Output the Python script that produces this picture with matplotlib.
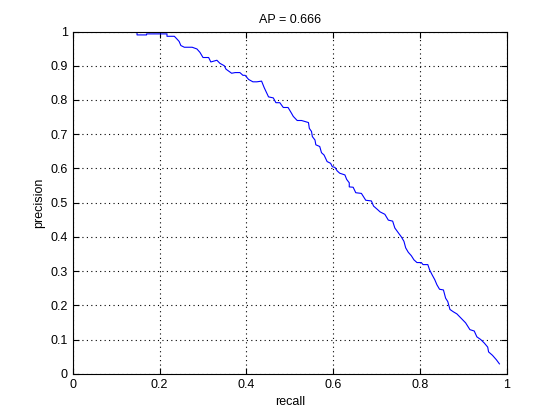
import matplotlib.pyplot as plt

# Precision-Recall-Kurve, Werte
recall = [0.148, 0.148, 0.170, 0.170, 0.217, 0.217, 0.234, 0.240, 0.245, 0.249, 0.257,
          0.275, 0.286, 0.293, 0.300, 0.313, 0.318, 0.332, 0.339, 0.349, 0.353, 0.366,
          0.374, 0.385, 0.392, 0.397, 0.405, 0.415, 0.424, 0.435, 0.441, 0.451, 0.462,
          0.468, 0.477, 0.485, 0.496, 0.504, 0.508, 0.517, 0.527, 0.543, 0.545, 0.550,
          0.552, 0.558, 0.560, 0.569, 0.573, 0.579, 0.586, 0.594, 0.598, 0.604, 0.609,
          0.615, 0.627, 0.631, 0.637, 0.637, 0.646, 0.652, 0.665, 0.675, 0.688, 0.693,
          0.702, 0.708, 0.719, 0.727, 0.737, 0.742, 0.750, 0.757, 0.763, 0.767, 0.773,
          0.780, 0.786, 0.793, 0.803, 0.807, 0.818, 0.822, 0.828, 0.834, 0.839, 0.845,
          0.854, 0.859, 0.864, 0.869, 0.877, 0.885, 0.895, 0.905, 0.915, 0.925, 0.931,
          0.940, 0.948, 0.956, 0.958, 0.967, 0.976, 0.983]
precision = [1.000, 0.990, 0.990, 0.993, 0.993, 0.986, 0.986, 0.978, 0.971, 0.959, 0.954,
             0.954, 0.949, 0.939, 0.924, 0.924, 0.911, 0.916, 0.907, 0.900, 0.890, 0.878,
             0.880, 0.880, 0.872, 0.872, 0.860, 0.853, 0.853, 0.855, 0.836, 0.809, 0.806,
             0.792, 0.792, 0.778, 0.778, 0.761, 0.752, 0.740, 0.740, 0.734, 0.717, 0.708,
             0.693, 0.683, 0.669, 0.664, 0.646, 0.639, 0.620, 0.615, 0.605, 0.603, 0.593,
             0.586, 0.581, 0.568, 0.558, 0.546, 0.545, 0.529, 0.527, 0.507, 0.505, 0.490,
             0.480, 0.473, 0.466, 0.449, 0.446, 0.426, 0.412, 0.400, 0.387, 0.368, 0.355,
             0.345, 0.333, 0.325, 0.325, 0.319, 0.319, 0.304, 0.289, 0.275, 0.260, 0.247,
             0.245, 0.221, 0.211, 0.188, 0.181, 0.175, 0.162, 0.149, 0.129, 0.125, 0.108,
             0.100, 0.090, 0.078, 0.064, 0.054, 0.041, 0.029]
ticks_x = [0, 0.2, 0.4, 0.6, 0.8, 1]
ticks_y = [0, 0.1, 0.2, 0.3, 0.4, 0.5, 0.6, 0.7, 0.8, 0.9, 1]

plt.rcParams['font.family'] = ['Liberation Sans', 'DejaVu Sans']
plt.rcParams['font.size'] = 9

fig = plt.figure(figsize=(5.6, 4.2), dpi=100)
ax = fig.add_axes([0.13, 0.11, 0.775, 0.815])
ax.plot(recall, precision, color='blue', linewidth=0.8)
ax.set_xlim(0, 1)
ax.set_ylim(0, 1)
ax.set_xticks(ticks_x)
ax.set_xticklabels(['0', '0.2', '0.4', '0.6', '0.8', '1'])
ax.set_yticks(ticks_y)
ax.set_yticklabels(['0', '0.1', '0.2', '0.3', '0.4', '0.5', '0.6', '0.7', '0.8', '0.9', '1'])
ax.grid(True, linestyle=(0, (1, 3)), color='black', linewidth=0.8)
ax.tick_params(direction='in', top=True, right=True, length=4)
for s in ax.spines.values():
    s.set_linewidth(0.8)
ax.set_xlabel('recall')
ax.set_ylabel('precision')
ax.set_title('AP = 0.666', fontsize=9)
fig.savefig('out.png', dpi=100)
